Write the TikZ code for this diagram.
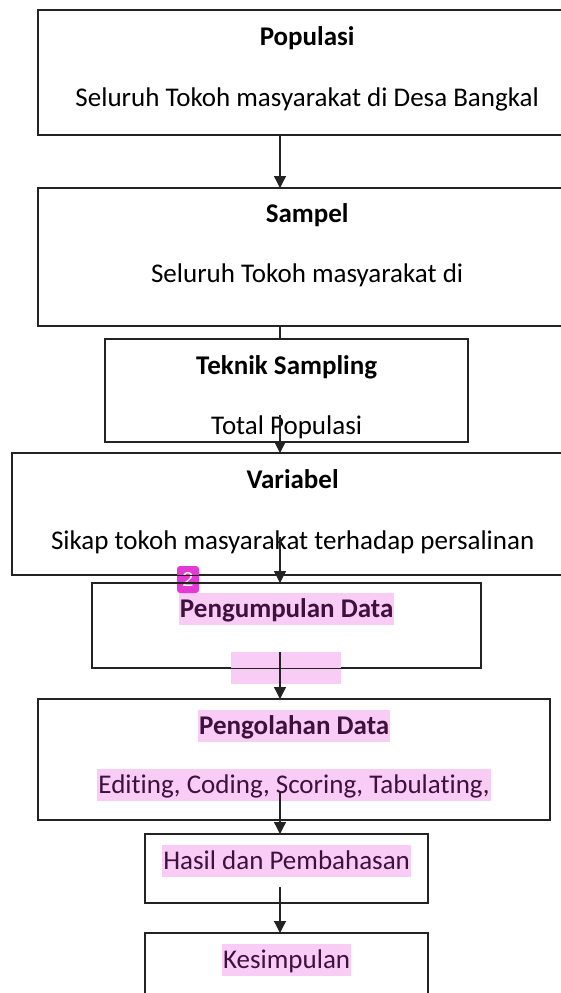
\documentclass[tikz,border=0pt]{standalone}
\usepackage{fontspec}
\setmainfont{Carlito}[Ligatures=NoCommon]
\newfontfamily\badgefont{Liberation Sans}
\usepackage{xcolor}
\usetikzlibrary{arrows.meta,calc,positioning}
\definecolor{hlpink}{RGB}{248,204,244}
\definecolor{hltext}{RGB}{62,16,62}
\definecolor{badgepink}{RGB}{228,58,212}
\definecolor{garis}{RGB}{35,35,35}
\tikzset{
  kotak/.style={draw=garis,line width=1.3pt,inner sep=0pt,anchor=north west},
  judul/.style={font=\fontsize{27}{32}\selectfont\bfseries,anchor=base,inner sep=0pt},
  isi/.style={font=\fontsize{27}{32}\selectfont,anchor=base,inner sep=0pt},
  tanda/.style={fill=hlpink,text=hltext,text height=23pt,text depth=6.5pt,inner xsep=1pt,inner ysep=1.5pt},
  nomor/.style={fill=badgepink,text=white,rounded corners=3pt,font=\badgefont\fontsize{20}{20}\selectfont,
    minimum width=22pt,minimum height=27pt,inner sep=0pt},
  panah/.style={draw=garis,line width=1.3pt,->}
}

\begin{document}
\begin{tikzpicture}[x=1pt,y=-1pt,>={Triangle[length=12pt,width=12pt]}]
    \clip (0,0) rectangle (561,993);
    \coordinate (ax) at (280,0);
    \node[kotak,minimum width=537pt,minimum height=124pt] (pop) at (38,10) {};
    \node[kotak,minimum width=537pt,minimum height=137pt] (sam) at (38,188) {};
    \node[kotak,minimum width=362pt,minimum height=102pt] (tek) at (105,339) {};
    \node[kotak,minimum width=560pt,minimum height=121pt] (var) at (12,453) {};
    \node[kotak,minimum width=388pt,minimum height=84pt] (kum) at (92,583) {};
    \node[kotak,minimum width=511pt,minimum height=120pt] (olah) at (38,699) {};
    \node[kotak,minimum width=282pt,minimum height=68pt] (hasil) at (145,834) {};
    \node[kotak,minimum width=282pt,minimum height=80pt] (simp) at (145,933) {};

    \node[judul] (popJ) at ($(pop.north)+(0,35)$) {Populasi};
    \node[isi] (popI) at ($(pop.north)+(0,96)$) {Seluruh Tokoh masyarakat di Desa Bangkal};
    \node[judul] (samJ) at ($(sam.north)+(0,34)$) {Sampel};
    \node[isi] (samI) at ($(sam.north)+(0,94)$) {Seluruh Tokoh masyarakat di};
    \node[judul] (tekJ) at ($(tek.north)+(0,35)$) {Teknik Sampling};
    \begin{scope}
      \clip (tek.north west) rectangle (tek.south east);
      \node[isi] (tekI) at ($(tek.north)+(0,95)$) {Total Populasi};
    \end{scope}
    \node[judul] (varJ) at ($(var.north)+(0,35)$) {Variabel};
    \node[isi] (varI) at ($(var.north)+(0,96)$) {Sikap tokoh masyarakat terhadap persalinan};
    \node[judul,tanda] (kumJ) at ($(kum.north)+(0,34)$) {Pengumpulan Data};
    \fill[hlpink] (231,652) rectangle (341,684);
    \node[judul,tanda] (olahJ) at ($(olah.north)+(0,35)$) {Pengolahan Data};
    \node[isi,tanda] (olahI) at ($(olah.north)+(0,94)$) {Editing, Coding, Scoring, Tabulating,};
    \node[isi,tanda] (hasilI) at ($(hasil.north)+(0,35)$) {Hasil dan Pembahasan};
    \node[isi,tanda] (simpI) at ($(simp.north)+(0,35)$) {Kesimpulan};
    \node[nomor] (badge) at (188,579.5) {2};

    \draw[kotak] (pop.north west) rectangle (pop.south east);
    \draw[kotak] (sam.north west) rectangle (sam.south east);
    \draw[kotak] (tek.north west) rectangle (tek.south east);
    \draw[kotak] (var.north west) rectangle (var.south east);
    \draw[kotak] (kum.north west) rectangle (kum.south east);
    \draw[kotak] (olah.north west) rectangle (olah.south east);
    \draw[kotak] (hasil.north west) rectangle (hasil.south east);
    \draw[kotak] (simp.north west) rectangle (simp.south east);

    \coordinate (a3) at (280,415);
    \coordinate (a4) at (280,537);
    \coordinate (a5) at (280,652);
    \coordinate (a6) at (280,792);
    \coordinate (a7) at (280,887);
    \draw[panah] (pop.south -| ax) -- (sam.north -| ax);
    \draw[draw=garis,line width=1.3pt] (sam.south -| ax) -- (tek.north -| ax);
    \draw[panah] (a3) -- (var.north -| ax);
    \draw[panah] (a4) -- (kum.north -| ax);
    \draw[panah] (a5) -- (olah.north -| ax);
    \draw[panah] (a6) -- (hasil.north -| ax);
    \draw[panah] (a7) -- (simp.north -| ax);
  \end{tikzpicture}
\end{document}
